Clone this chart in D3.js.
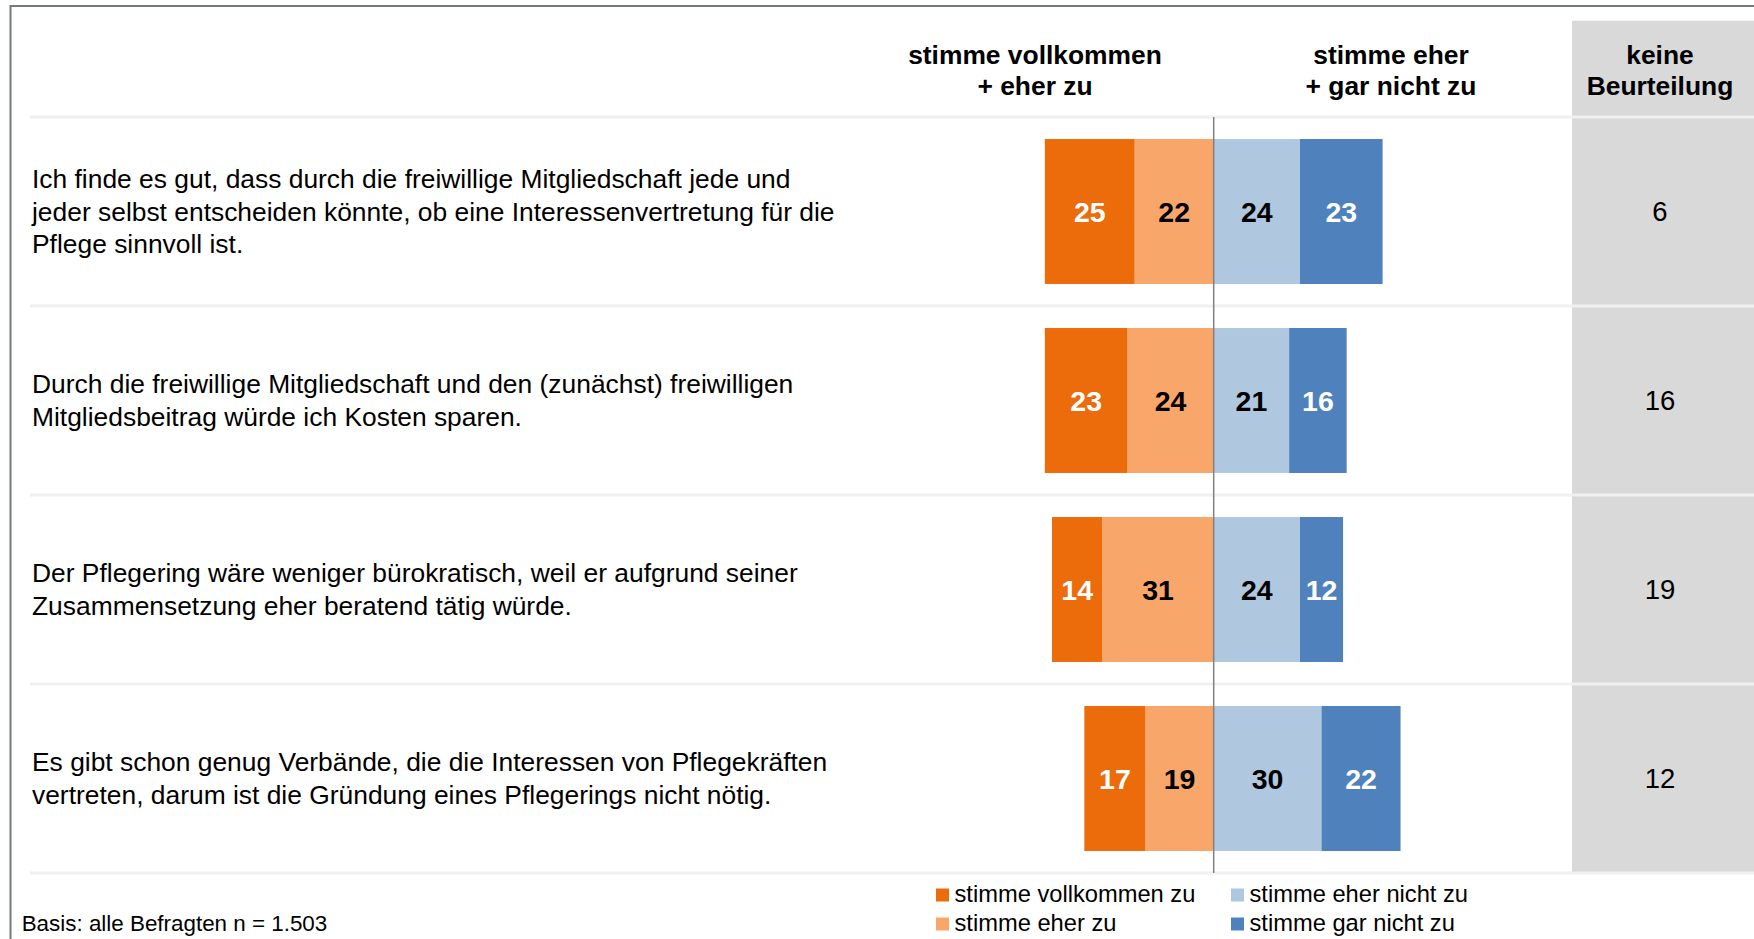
<!DOCTYPE html>
<html lang="de">
<head>
<meta charset="utf-8">
<title>Freiwillige Mitgliedschaft – Zustimmung</title>
<script src="https://cdn.jsdelivr.net/npm/d3@7"></script>
<style>
  html, body { margin: 0; padding: 0; background: #fff; }
  svg { display: block; }
  text { font-family: "Liberation Sans", Arial, Helvetica, sans-serif; }
</style>
</head>
<body>
<svg id="chart" width="1754" height="939"></svg>
<script>
// Statements, one array of wrapped lines per row
const statements = [
  ["Ich finde es gut, dass durch die freiwillige Mitgliedschaft jede und",
   "jeder selbst entscheiden könnte, ob eine Interessenvertretung für die",
   "Pflege sinnvoll ist."],
  ["Durch die freiwillige Mitgliedschaft und den (zunächst) freiwilligen",
   "Mitgliedsbeitrag würde ich Kosten sparen."],
  ["Der Pflegering wäre weniger bürokratisch, weil er aufgrund seiner",
   "Zusammensetzung eher beratend tätig würde."],
  ["Es gibt schon genug Verbände, die die Interessen von Pflegekräften",
   "vertreten, darum ist die Gründung eines Pflegerings nicht nötig."]
];

// Percentages per answer category
const vollkommenZu = [25, 23, 14, 17];
const eherZu       = [22, 24, 31, 19];
const eherNichtZu  = [24, 21, 24, 30];
const garNichtZu   = [23, 16, 12, 22];
const keineBeurteilung = [6, 16, 19, 12];

const legendLabels = ["stimme vollkommen zu", "stimme eher zu", "stimme eher nicht zu", "stimme gar nicht zu"];
const headerAgree    = ["stimme vollkommen", "+ eher zu"];
const headerDisagree = ["stimme eher", "+ gar nicht zu"];
const headerNone     = ["keine", "Beurteilung"];
const footnote = "Basis: alle Befragten n = 1.503";

const colors = {
  vollkommen: "#ec6c0c",
  eher: "#f8a669",
  eherNicht: "#afc8e0",
  garNicht: "#4f81bd"
};

const W = 1754, H = 939;
const svg = d3.select("#chart");

// Scales
const idx = d3.range(statements.length);
const y = d3.scaleBand().domain(idx).range([117, 873]).paddingInner(0.233).paddingOuter(0.1165);
const step = y.step();
const bandTop = i => y(i) - y.paddingInner() * step / 2;
const bandMid = i => y(i) + y.bandwidth() / 2;
const x = d3.scaleLinear().domain([-60, 60]).range([998.1, 1429.3]);
const x0 = x(0);

// Frame lines (top and left)
svg.append("line").attr("x1", 10).attr("x2", W).attr("y1", 6).attr("y2", 6)
  .attr("stroke", "#757a7f").attr("stroke-width", 2);
svg.append("line").attr("x1", 10.5).attr("x2", 10.5).attr("y1", 5).attr("y2", H)
  .attr("stroke", "#757a7f").attr("stroke-width", 2);

// "keine Beurteilung" column background
const noneX = 1572, noneCx = 1660;
svg.append("rect").attr("x", noneX).attr("y", 20.7).attr("width", W - noneX)
  .attr("height", 873 - 20.7).attr("fill", "#d9d9d9");

// Row separators
const seps = idx.map(bandTop).concat([bandTop(idx.length - 1) + step]);
svg.append("g").selectAll("line").data(seps).join("line")
  .attr("x1", 30).attr("x2", W).attr("y1", d => d).attr("y2", d => d)
  .attr("stroke", "#f0f0f0").attr("stroke-width", 3);

// Column headers
function header(lines, cx) {
  const t = svg.append("text").attr("text-anchor", "middle")
    .attr("font-weight", "bold").attr("font-size", 26.4).attr("fill", "#000");
  lines.forEach((l, k) => t.append("tspan").attr("x", cx).attr("y", 54.5 + k * 31)
    .attr("dominant-baseline", "central").text(l));
}
header(headerAgree, 1035);
header(headerDisagree, 1391);
header(headerNone, noneCx);

// Statement labels
svg.append("g").selectAll("text").data(idx).join("text")
  .attr("font-size", 26.4).attr("fill", "#000")
  .each(function (i) {
    const lines = statements[i];
    const lh = 32.4;
    const start = bandMid(i) - (lines.length - 1) * lh / 2;
    d3.select(this).selectAll("tspan").data(lines).join("tspan")
      .attr("x", 32).attr("y", (d, k) => start + k * lh)
      .attr("dominant-baseline", "central").text(d => d);
  });

// Diverging stacked segments
const segments = [];
idx.forEach(i => {
  segments.push({ i, v: eherZu[i], from: -eherZu[i], to: 0, fill: colors.eher, txt: "#000" });
  segments.push({ i, v: vollkommenZu[i], from: -(eherZu[i] + vollkommenZu[i]), to: -eherZu[i], fill: colors.vollkommen, txt: "#fff" });
  segments.push({ i, v: eherNichtZu[i], from: 0, to: eherNichtZu[i], fill: colors.eherNicht, txt: "#000" });
  segments.push({ i, v: garNichtZu[i], from: eherNichtZu[i], to: eherNichtZu[i] + garNichtZu[i], fill: colors.garNicht, txt: "#fff" });
});

const segG = svg.append("g");
segG.selectAll("rect").data(segments).join("rect")
  .attr("x", d => x(d.from)).attr("width", d => x(d.to) - x(d.from))
  .attr("y", d => y(d.i)).attr("height", y.bandwidth())
  .attr("fill", d => d.fill);

segG.selectAll("text").data(segments).join("text")
  .attr("x", d => (x(d.from) + x(d.to)) / 2).attr("y", d => bandMid(d.i))
  .attr("text-anchor", "middle").attr("dominant-baseline", "central")
  .attr("font-weight", "bold").attr("font-size", 28.5).attr("fill", d => d.txt)
  .text(d => d.v);

// Zero line
svg.append("line").attr("x1", x0).attr("x2", x0).attr("y1", seps[0]).attr("y2", seps[seps.length - 1])
  .attr("stroke", "#808080").attr("stroke-width", 1.5);

// "keine Beurteilung" values
svg.append("g").selectAll("text").data(idx).join("text")
  .attr("x", noneCx).attr("y", i => bandMid(i))
  .attr("text-anchor", "middle").attr("dominant-baseline", "central")
  .attr("font-size", 27.5).attr("fill", "#000")
  .text(i => keineBeurteilung[i]);

// Legend (two columns)
const legendItems = [
  { label: legendLabels[0], color: colors.vollkommen, col: 0, row: 0 },
  { label: legendLabels[1], color: colors.eher, col: 0, row: 1 },
  { label: legendLabels[2], color: colors.eherNicht, col: 1, row: 0 },
  { label: legendLabels[3], color: colors.garNicht, col: 1, row: 1 }
];
const legCols = [936, 1231], legRows = [894, 923];
const leg = svg.append("g").selectAll("g").data(legendItems).join("g")
  .attr("transform", d => `translate(${legCols[d.col]},${legRows[d.row]})`);
leg.append("rect").attr("x", 0).attr("y", -5.5).attr("width", 13).attr("height", 13)
  .attr("fill", d => d.color);
leg.append("text").attr("x", 18.5).attr("y", 0).attr("dominant-baseline", "central")
  .attr("font-size", 23.7).attr("fill", "#000").text(d => d.label);

// Footnote
svg.append("text").attr("x", 21.7).attr("y", 923).attr("dominant-baseline", "central")
  .attr("font-size", 22.4).attr("fill", "#000").text(footnote);
</script>
</body>
</html>
